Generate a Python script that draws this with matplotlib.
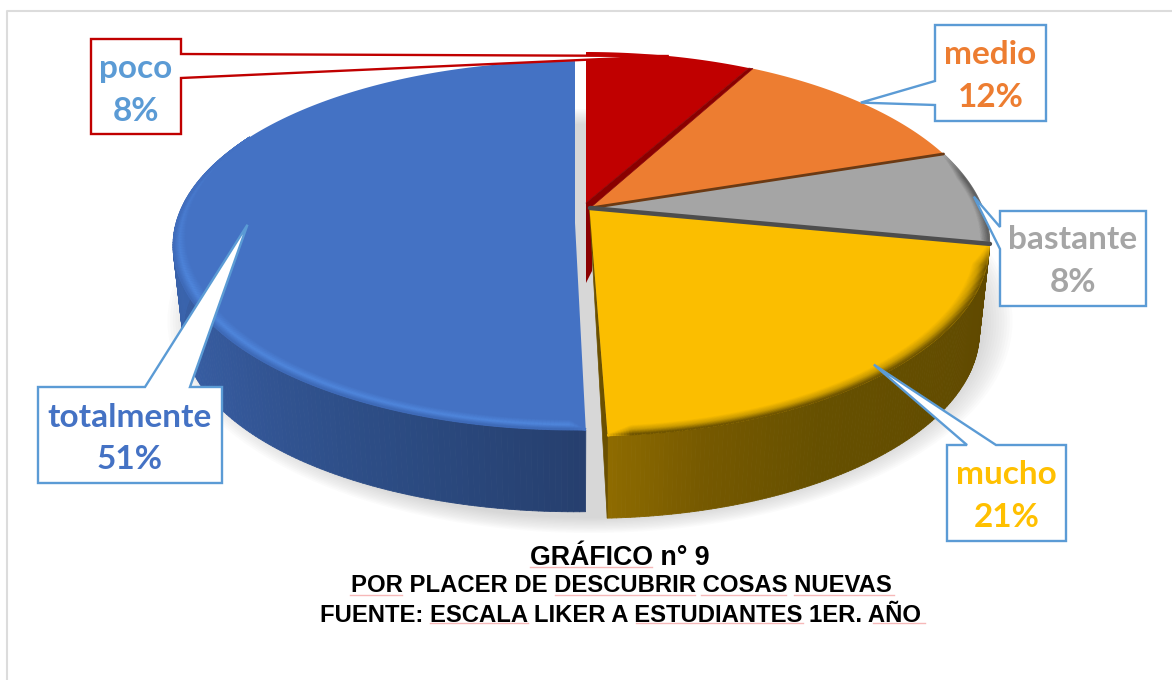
import matplotlib
matplotlib.use("Agg")
import matplotlib.pyplot as plt
from matplotlib.collections import LineCollection, PolyCollection
from matplotlib.colors import to_rgb
from matplotlib.patches import Ellipse, Polygon
import numpy as np

labels = ["poco", "medio", "bastante", "mucho", "totalmente"]
values = [8.0, 12.0, 8.0, 21.4, 50.6]
face_colors = ["#c00000", "#ed7d31", "#a5a5a5", "#fbbe00", "#4472c4"]
text_colors = ["#5b9bd5", "#ed7d31", "#a5a5a5", "#ffc000", "#4472c4"]
border_colors = ["#c00000", "#5b9bd5", "#5b9bd5", "#5b9bd5", "#5b9bd5"]
title_lines = [
    "GRÁFICO n° 9",
    "POR PLACER DE DESCUBRIR COSAS NUEVAS",
    "FUENTE: ESCALA LIKER A ESTUDIANTES 1ER. AÑO",
]

# perspective of each slice: apex x, apex y, a, b, k
main = (590, 208, 393, 184.9, 0.1855)
geom = [
    (586, 203, 393, 179.0, 0.1855),
    main,
    main,
    (589.5, 209, 393, 184.9, 0.1855),
    (575, 223, 399, 181.7, 0.122),
]
drop = [88, 88, 88, 88, 87]
trim = [0, 0, 0, 0, 0.8]  # blue starts a bit later, it is pulled out of the pie

# callouts: box (x0, y0, x1, y1), side the pointer leaves from, pointer base, tip radius
boxes = [
    (91, 39, 181, 134),
    (935, 25, 1046, 121),
    (1000, 211, 1146, 306),
    (947, 445, 1066, 541),
    (38, 387, 222, 483),
]
sides = ["right", "left", "left", "top", "top"]
bases = [(54, 78), (81, 105), (227, 249), (967, 996), (145, 190)]
tip_r = [1.0, 1.0, 0.99, 0.96, 0.82]
text_y = [(68.5, 111.5), (54.5, 97.5), (239.5, 282.5), (474.5, 517.5), (417.5, 459.5)]

squiggles = [
    (530, 652, 567), (350, 402, 595), (555, 695, 595), (701, 786, 595),
    (794, 894, 595), (430, 528, 623), (636, 803, 623), (873, 925, 623),
]


def project(theta, r, g, d=0.0):
    cx, cy, a, b, k = g
    t = np.radians(theta)
    u = r * np.sin(t)
    v = r * np.cos(t)
    w = 1 + k * v
    s = 1 - 0.025 * (d > 0)
    return cx + s * a * u / w, cy + d - s * b * v / w


def mix(stops, theta):
    ang = [x[0] for x in stops]
    cols = np.array([to_rgb(x[1]) for x in stops])
    return np.array([np.interp(theta, ang, cols[:, i]) for i in range(3)])


def wall(theta0, theta1, g, d, stops, z):
    th = np.linspace(theta0, theta1, 160)
    x0, y0 = project(th, 1, g)
    x1, y1 = project(th, 1, g, d)
    quads = []
    cols = []
    for i in range(len(th) - 1):
        quads.append([(x0[i], y0[i]), (x0[i + 1], y0[i + 1]), (x1[i + 1], y1[i + 1]), (x1[i], y1[i])])
        cols.append(mix(stops, th[i]))
    ax.add_collection(PolyCollection(quads, facecolors=cols, edgecolors=cols, lw=0.6, zorder=z))


def band(theta0, theta1, g, width, stops, fade, z):
    # soft bevel along the rim of a face, fades into the face at both ends
    th = np.linspace(theta0, theta1, 240)
    taper = np.clip((th - theta0) / fade[0], 0, 1) * np.clip((theta1 - th) / fade[1], 0, 1)
    base = np.array(to_rgb(stops[0][1]))
    for t in np.linspace(0, 1, 14):
        x, y = project(th, 0.998 - width * taper * (1 - t), g)
        pts = np.column_stack([x, y])
        segs = np.stack([pts[:-1], pts[1:]], axis=1)
        cols = [base + (mix(stops, t) - base) * a for a in taper[:-1]]
        ax.add_collection(LineCollection(segs, colors=np.clip(cols, 0, 1), lw=1.4, zorder=z))


fig = plt.figure(figsize=(11.72, 6.8), dpi=100)
ax = fig.add_axes([0, 0, 1, 1])
ax.set_xlim(0, 1172)
ax.set_ylim(680, 0)
ax.axis("off")

ax.plot([7, 7, 1172], [680, 11, 11], color="#dcdcdc", lw=1.5, zorder=1)

# soft shadow under the pie
for sc in np.linspace(1.0, 0.93, 12):
    ax.add_patch(Ellipse((590, 321), 845 * sc, 424 * sc, fc="#9a9a9a", ec="none", alpha=0.036, zorder=2))

ends = np.cumsum(values) * 3.6
starts = ends - np.array(values) * 3.6 + np.array(trim)

wall(starts[4], 300, geom[4], drop[4],
     [(starts[4], "#263f6e"), (200, "#2b4a80"), (235, "#35599b"), (270, "#3a64ad"), (300, "#3a64ad")], 3)
wall(88, ends[3], geom[3], drop[3],
     [(88, "#555555"), (100, "#5f4800"), (150, "#665000"), (166, "#765900"), (ends[3], "#8f6c00")], 3)

# cut faces that show in the gap
rx, ry = geom[0][:2]
ax.add_patch(Polygon([(rx, ry), (rx, ry + 80), (rx + 6, ry + 68), (rx + 6, ry)], fc="#8a0000", ec="none", zorder=3))
ybx, yby = project(ends[3], 1, geom[3], drop[3])
ax.add_patch(Polygon([geom[3][:2], project(ends[3], 1, geom[3]), (ybx, yby)], fc="#6b5000", ec="#6b5000", lw=0.5, zorder=3))

for i in range(len(values)):
    th = np.linspace(starts[i], ends[i], 200)
    x, y = project(th, 1, geom[i])
    pts = np.column_stack([np.r_[geom[i][0], x], np.r_[geom[i][1], y]])
    ax.add_patch(Polygon(pts, fc=face_colors[i], ec="none", zorder=4))

band(starts[4], 300, geom[4], 0.04, [(0, "#4472c4"), (0.55, "#4f86dc"), (1, "#3e6ab8")], (2, 50), 5)
band(ends[2], ends[3], geom[3], 0.033, [(0, "#fbbe00"), (0.5, "#cc9c00"), (1, "#705500")], (6, 3), 5)
band(starts[2], ends[2], geom[2], 0.02, [(0, "#a5a5a5"), (1, "#606060")], (8, 1), 5)

# dark bevels between the slices
rim_red = project(ends[0], 1, geom[0])
rim_main = project(ends[0], 1, main)
ax.add_patch(Polygon([geom[0][:2], rim_red, rim_main, main[:2]], fc="#8a0000", ec="#8a0000", lw=0.5, zorder=6))
edge_colors = ["#6b3a14", "#4d4d4d"]
edge_widths = [2.0, 3.2]
for i in range(2):
    ex, ey = project(ends[i + 1], 1, main)
    ax.plot([main[0], ex], [main[1], ey], color=edge_colors[i], lw=edge_widths[i], zorder=6, solid_capstyle="round")

# callouts
for i, name in enumerate(labels):
    x0, y0, x1, y1 = boxes[i]
    tip = project((starts[i] + ends[i]) / 2, tip_r[i], geom[i])
    p, q = bases[i]
    if sides[i] == "right":
        pts = [(x0, y0), (x1, y0), (x1, p), tip, (x1, q), (x1, y1), (x0, y1)]
    elif sides[i] == "left":
        pts = [(x0, y0), (x1, y0), (x1, y1), (x0, y1), (x0, q), tip, (x0, p)]
    else:
        pts = [(x0, y0), (p, y0), tip, (q, y0), (x1, y0), (x1, y1), (x0, y1)]
    ax.add_patch(Polygon(pts, fc="white", ec=border_colors[i], lw=1.7, joinstyle="miter", zorder=8))
    cx = (x0 + x1) / 2
    ax.text(cx, text_y[i][0], name, color=text_colors[i], family="Lato", weight="bold", fontsize=24,
            ha="center", va="center", zorder=9)
    ax.text(cx, text_y[i][1], f"{values[i]:.0f}%", color=text_colors[i], family="Lato", weight="bold", fontsize=24,
            ha="center", va="center", zorder=9)

# title block
ax.text(620, 558, title_lines[0], family="Liberation Sans", weight="bold", fontsize=19.3, ha="center", va="center", color="black", zorder=9)
ax.text(621, 586, title_lines[1], family="Liberation Sans", weight="bold", fontsize=17.2, ha="center", va="center", color="black", zorder=9)
ax.text(621, 615, title_lines[2], family="Liberation Sans", weight="bold", fontsize=17.2, ha="center", va="center", color="black", zorder=9)
for a, b, y in squiggles:
    ax.plot([a, b], [y, y], color="#f6b8b8", lw=1.0, zorder=8)

fig.savefig("out.png", dpi=100, facecolor="white")
